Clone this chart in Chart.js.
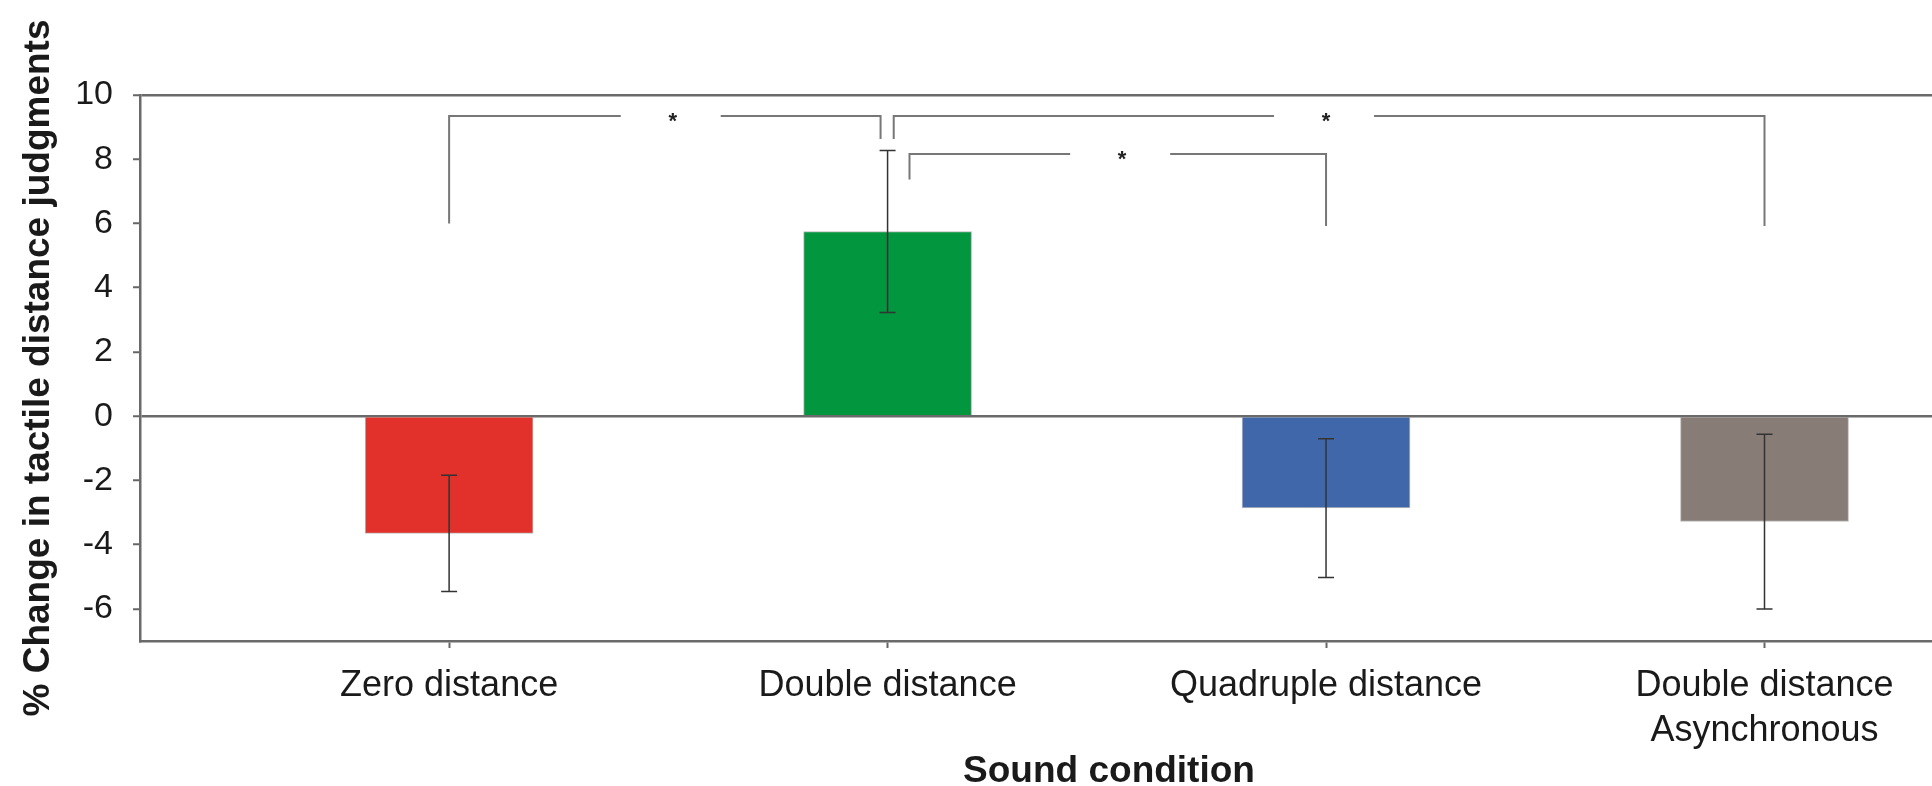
<!DOCTYPE html>
<html>
<head>
<meta charset="utf-8">
<script src="https://cdn.jsdelivr.net/npm/chart.js@4"></script>
<style>
    html, body { margin: 0; padding: 0; background: #fff; overflow: hidden; }
    #wrap { position: absolute; left: 0; top: 0; width: 2090px; height: 786px; }
</style>
</head>
<body>
<div id="wrap"><canvas id="chart" width="2090" height="786"></canvas></div>
<script>
// Data
const categories = ["Zero distance", "Double distance", "Quadruple distance", ["Double distance", "Asynchronous"]];
const positions = [1, 2, 3, 4];
const means = [-3.65, 5.75, -2.86, -3.28];
const errors = [1.81, 2.52, 2.16, 2.72];
const yTicks = [-6, -4, -2, 0, 2, 4, 6, 8, 10];

// Significance brackets (x in category units, y in % units)
const bracketStart = [1, 2.014, 2.05];
const bracketEnd = [1.984, 4, 3];
const bracketLevel = [9.35, 9.35, 8.16];
const bracketStartDrop = [6.0, 8.63, 7.37];
const bracketEndDrop = [8.63, 5.92, 5.92];
const starPos = [1.51, 3.0, 2.535];

const barColors = ["#e2302a", "#02963f", "#4067aa", "#877c76"];

// Error bars and brackets drawn through the chart's scales
const extrasPlugin = {
    id: "extras",
    afterDatasetsDraw(chart) {
        const ctx = chart.ctx;
        const xs = chart.scales.x;
        const ys = chart.scales.y;

        // error bars
        ctx.save();
        ctx.strokeStyle = "#333";
        ctx.lineWidth = 1.5;
        means.forEach((m, i) => {
            const x = xs.getPixelForValue(positions[i]);
            const top = ys.getPixelForValue(m + errors[i]);
            const bot = ys.getPixelForValue(m - errors[i]);
            ctx.beginPath();
            ctx.moveTo(x, top);
            ctx.lineTo(x, bot);
            ctx.moveTo(x - 8, top);
            ctx.lineTo(x + 8, top);
            ctx.moveTo(x - 8, bot);
            ctx.lineTo(x + 8, bot);
            ctx.stroke();
        });
        ctx.restore();

        // brackets
        ctx.save();
        ctx.strokeStyle = "#777";
        ctx.lineWidth = 2;
        ctx.fillStyle = "#222";
        ctx.font = "bold 22px 'Liberation Sans', Arial, sans-serif";
        ctx.textAlign = "center";
        ctx.textBaseline = "middle";
        bracketLevel.forEach((lvl, i) => {
            const x1 = xs.getPixelForValue(bracketStart[i]);
            const x2 = xs.getPixelForValue(bracketEnd[i]);
            const y = ys.getPixelForValue(lvl);
            const sx = xs.getPixelForValue(starPos[i]);
            ctx.beginPath();
            ctx.moveTo(x1, ys.getPixelForValue(bracketStartDrop[i]));
            ctx.lineTo(x1, y);
            ctx.lineTo(sx - 52, y);
            ctx.moveTo(sx + 48, y);
            ctx.lineTo(x2, y);
            ctx.lineTo(x2, ys.getPixelForValue(bracketEndDrop[i]));
            ctx.stroke();
            ctx.fillText("*", sx, y + 6);
        });
        ctx.restore();
    }
};

const ctx = document.getElementById("chart").getContext("2d");
new Chart(ctx, {
    type: "bar",
    data: {
        datasets: [{
            data: positions.map((p, i) => ({ x: p, y: means[i] })),
            backgroundColor: barColors,
            borderColor: "rgba(60,60,60,0.35)",
            borderWidth: 1,
            barThickness: 168
        }]
    },
    options: {
        responsive: false,
        animation: false,
        layout: { padding: { top: 95, right: 12, left: 0, bottom: 0 } },
        plugins: {
            legend: { display: false },
            tooltip: { enabled: false }
        },
        scales: {
            x: {
                type: "linear",
                offset: false,
                min: 0.295,
                max: 4.715,
                afterBuildTicks: scale => {
                    scale.ticks = positions.map(v => ({ value: v }));
                },
                afterFit: scale => { scale.height = 145; },
                grid: {
                    offset: false,
                    drawOnChartArea: false,
                    drawTicks: true,
                    tickLength: 7,
                    tickColor: "#666",
                    tickWidth: 2
                },
                border: { display: true, color: "#6a6a6a", width: 2.5 },
                ticks: {
                    autoSkip: false,
                    maxRotation: 0,
                    padding: 16,
                    color: "#1a1a1a",
                    font: { family: "'Liberation Sans', Arial, sans-serif", size: 36, lineHeight: 1.25 },
                    callback: value => categories[positions.indexOf(value)]
                },
                title: {
                    display: true,
                    text: "Sound condition",
                    color: "#1a1a1a",
                    font: { family: "'Liberation Sans', Arial, sans-serif", size: 37, weight: "bold", lineHeight: 0.75 },
                    padding: { top: 0, bottom: 0 }
                }
            },
            y: {
                min: -7,
                max: 10,
                afterBuildTicks: scale => {
                    scale.ticks = yTicks.map(v => ({ value: v }));
                },
                afterFit: scale => { scale.width = 140; },
                grid: {
                    drawOnChartArea: true,
                    color: c => (c.tick && (c.tick.value === 0 || c.tick.value === 10)) ? "#6a6a6a" : "rgba(0,0,0,0)",
                    lineWidth: 2.5,
                    drawTicks: true,
                    tickLength: 7,
                    tickColor: "#666",
                    tickWidth: 2
                },
                border: { display: true, color: "#6a6a6a", width: 2.5 },
                ticks: {
                    padding: 20,
                    color: "#1a1a1a",
                    font: { family: "'Liberation Sans', Arial, sans-serif", size: 34 }
                },
                title: {
                    display: true,
                    text: "% Change in tactile distance judgments",
                    color: "#1a1a1a",
                    font: { family: "'Liberation Sans', Arial, sans-serif", size: 37, weight: "bold", lineHeight: 1 },
                    padding: { top: 20, bottom: 0 }
                }
            }
        }
    },
    plugins: [extrasPlugin]
});
</script>
</body>
</html>
